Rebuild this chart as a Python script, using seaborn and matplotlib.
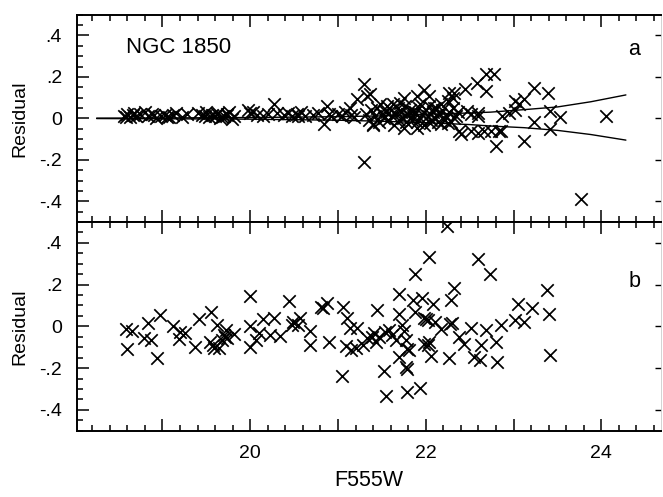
import numpy as np
import pandas as pd
import matplotlib
matplotlib.use("Agg")
import matplotlib.pyplot as plt
from matplotlib.ticker import MultipleLocator, FixedLocator
import seaborn as sns

# ---------------- data ----------------
# Panel a: residuals vs F555W
a_x = [18.56, 18.60, 18.63, 18.66, 18.68, 18.75, 18.80, 18.84, 18.88, 18.93,
       18.98, 19.03, 19.08, 19.12, 19.16, 19.22, 19.28, 19.40, 19.45, 19.50,
       19.53, 19.57, 19.60, 19.63, 19.66, 19.70, 19.73, 19.76, 19.79, 19.82,
       19.98, 20.03, 20.08, 20.15, 20.20, 20.27, 20.30, 20.38, 20.43, 20.48,
       20.53, 20.58, 20.62, 20.72, 20.77, 20.84, 20.87, 20.90, 20.92, 21.00,
       21.05, 21.08, 21.14, 21.15, 21.18, 21.22, 21.30, 21.30, 21.33, 21.36,
       21.40, 21.48, 21.56, 21.63, 21.71, 21.75, 21.79, 21.86, 21.90, 21.94,
       21.98, 22.04, 22.09, 22.17, 22.25, 22.31, 22.26, 22.32, 22.45, 22.58,
       22.69, 22.78, 22.69, 21.75, 21.90, 22.05, 22.17, 22.25, 22.32, 22.38,
       22.40, 22.51, 22.59, 22.66, 22.74, 22.51, 22.59, 22.80, 22.87, 22.95,
       23.02, 23.12, 23.06, 23.02, 23.23, 23.39, 23.41, 23.53, 23.23, 23.42,
       23.12, 22.86, 24.05, 23.77, 22.47, 22.60, 22.83,
       21.32, 21.35, 21.38, 21.40, 21.42, 21.45, 21.47, 21.50, 21.52, 21.55,
       21.57, 21.60, 21.62, 21.64, 21.66, 21.68, 21.70, 21.72, 21.74, 21.76,
       21.78, 21.80, 21.82, 21.84, 21.86, 21.88, 21.90, 21.92, 21.94, 21.96,
       21.98, 22.00, 22.02, 22.04, 22.06, 22.08, 22.10, 22.12, 22.14, 22.16,
       22.19, 22.21, 22.23, 22.26, 22.29, 22.31, 22.34, 22.37,
       18.58, 18.70, 18.90, 19.05, 19.48, 19.62, 19.68, 19.74, 20.00, 20.55]
a_y = [0.010, 0.020, 0.005, 0.015, 0.025, 0.020, 0.030, 0.012, 0.022, 0.000,
       0.010, 0.018, 0.005, 0.015, 0.025, 0.008, 0.020, 0.025, 0.015, 0.030,
       0.005, 0.018, 0.010, 0.025, 0.002, 0.012, 0.020, 0.030, -0.005, 0.010,
       0.040, 0.030, 0.015, 0.010, 0.020, 0.068, 0.025, 0.015, 0.025, 0.010,
       0.020, 0.030, 0.010, 0.015, 0.025, -0.026, 0.060, 0.020, 0.010, 0.020,
       0.010, 0.030, 0.051, 0.015, 0.005, 0.092, 0.168, -0.212, 0.108, 0.116,
       -0.029, 0.068, 0.060, 0.068, 0.076, 0.100, 0.019, 0.035, 0.108, 0.068,
       0.136, 0.108, 0.051, 0.068, 0.084, 0.100, 0.124, 0.124, 0.140, 0.172,
       0.216, 0.213, 0.132, -0.045, -0.045, -0.021, -0.029, -0.021, 0.003, -0.061,
       -0.077, -0.060, -0.070, -0.060, -0.060, 0.019, 0.027, -0.134, 0.011, 0.027,
       0.084, 0.092, 0.068, 0.039, 0.148, 0.124, 0.035, 0.006, -0.018, -0.053,
       -0.107, -0.062, 0.011, -0.387, 0.035, 0.011, -0.061,
       0.020, -0.010, 0.040, -0.030, 0.010, 0.050, -0.020, 0.020, 0.000, 0.030,
       -0.010, 0.040, 0.010, -0.030, 0.020, 0.050, -0.010, 0.030, 0.000, 0.060,
       -0.020, 0.020, 0.040, -0.010, 0.010, 0.030, -0.020, 0.050, 0.000, 0.020,
       -0.030, 0.040, 0.010, 0.060, -0.010, 0.030, 0.000, 0.050, -0.020, 0.020,
       0.040, -0.010, 0.010, 0.030, -0.020, 0.050, 0.010, 0.030,
       0.005, 0.012, 0.018, 0.008, 0.010, 0.020, 0.005, 0.015, 0.025, 0.012]

# Error envelope (panel a)
env_x = [18.25, 19.0, 20.0, 21.0, 21.5, 22.0, 22.5, 22.74, 23.12, 23.5, 23.88, 24.28]
env_up = [0.001, 0.002, 0.004, 0.008, 0.012, 0.020, 0.026, 0.030, 0.042, 0.055, 0.080, 0.113]
env_lo = [-0.001, -0.002, -0.004, -0.009, -0.014, -0.021, -0.030, -0.037, -0.045, -0.058, -0.078, -0.105]

# Panel b: residuals vs F555W
b_x = [18.59, 18.65, 18.60, 18.83, 18.79, 18.87, 18.97, 18.94, 19.12, 19.20,
       19.26, 19.19, 19.37, 19.42, 19.55, 19.62, 19.54, 19.58, 19.59, 19.65,
       19.70, 19.72, 19.74, 19.81, 19.68, 19.71, 20.00, 20.00, 20.00, 20.07,
       20.10, 20.15, 20.27, 20.23, 20.34, 20.44, 20.49, 20.48, 20.55, 20.57,
       20.68, 20.68, 20.81, 20.83, 20.87, 20.90, 21.06, 21.10, 21.14, 21.05,
       21.09, 21.15, 21.21, 21.22, 21.29, 21.33, 21.39, 21.43, 21.45, 21.41,
       21.47, 21.52, 21.55, 21.54, 21.58, 21.62, 21.66, 21.69, 21.70, 21.69,
       21.73, 21.75, 21.77, 21.79, 21.81, 21.77, 21.79, 21.79, 21.88, 21.86,
       21.96, 21.88, 21.94, 22.24, 22.04, 22.60, 22.73, 22.32, 22.29, 22.08,
       21.98, 22.02, 22.00, 22.11, 22.17, 22.28, 22.30, 22.38, 22.44, 22.52,
       22.69, 22.86, 22.80, 22.63, 22.55, 22.62, 22.81, 22.26, 22.06, 22.04,
       22.02, 21.98, 23.02, 23.12, 23.05, 23.21, 23.38, 23.40, 23.42]
b_y = [-0.014, -0.022, -0.110, 0.018, -0.057, -0.065, 0.055, -0.153, 0.002, -0.025,
       -0.030, -0.060, -0.101, 0.034, 0.067, 0.007, -0.073, -0.089, -0.105, -0.102,
       -0.041, -0.017, -0.054, -0.038, -0.065, -0.050, 0.147, 0.003, -0.097, -0.065,
       -0.034, 0.036, 0.042, -0.041, -0.045, 0.122, 0.023, 0.007, 0.007, 0.038,
       -0.022, -0.089, 0.094, 0.090, 0.110, -0.073, 0.094, 0.038, -0.010, -0.236,
       -0.093, -0.113, -0.102, -0.010, -0.089, -0.058, -0.050, -0.074, 0.077, -0.032,
       -0.050, -0.216, -0.336, -0.025, -0.017, -0.041, -0.065, 0.058, 0.157, -0.147,
       0.005, -0.020, -0.067, -0.107, -0.115, -0.195, -0.203, -0.316, 0.253, 0.128,
       0.138, 0.069, -0.294, 0.480, 0.330, 0.325, 0.253, 0.186, 0.128, 0.106,
       0.040, 0.030, 0.035, 0.021, -0.011, 0.013, 0.016, -0.051, -0.083, -0.006,
       -0.016, 0.005, -0.075, -0.091, -0.147, -0.163, -0.171, -0.150, -0.144, -0.075,
       -0.091, -0.085, 0.029, 0.021, 0.106, 0.090, 0.173, 0.061, -0.139]

y_ticks = [-0.4, -0.2, 0.0, 0.2, 0.4]
y_ticklabels = ["-.4", "-.2", "0", ".2", ".4"]
x_ticks = [19, 20, 21, 22, 23, 24]
x_ticklabels = ["", "20", "", "22", "", "24"]

# ---------------- figure ----------------
sns.set_style("ticks")
plt.rcParams["font.family"] = ["Liberation Sans", "DejaVu Sans"]
plt.rcParams["text.color"] = "black"
plt.rcParams["axes.labelcolor"] = "black"
plt.rcParams["xtick.color"] = "black"
plt.rcParams["ytick.color"] = "black"

fig = plt.figure(figsize=(6.63, 4.97), dpi=100)
L, R = 77.3 / 663, 661 / 663
T, M, B = 1 - 14.7 / 497, 1 - 222.0 / 497, 1 - 430.7 / 497
ax_a = fig.add_axes([L, M, R - L, T - M])
ax_b = fig.add_axes([L, B, R - L, M - B])

dfa = pd.DataFrame({"mag": a_x, "res": a_y})
dfb = pd.DataFrame({"mag": b_x, "res": b_y})
dfe = pd.DataFrame({"mag": env_x, "up": env_up, "lo": env_lo})

mk = dict(marker="x", color="black", s=80, linewidth=1.25)
sns.scatterplot(data=dfa, x="mag", y="res", ax=ax_a, **mk)
sns.lineplot(data=dfe, x="mag", y="up", ax=ax_a, color="black", lw=1.0)
sns.lineplot(data=dfe, x="mag", y="lo", ax=ax_a, color="black", lw=1.0)
sns.scatterplot(data=dfb, x="mag", y="res", ax=ax_b, **mk)

for ax, letter, ly in ((ax_a, "a", 0.83), (ax_b, "b", 0.713)):
    ax.set_xlim(18.03, 24.68)
    ax.set_ylim(-0.5, 0.5)
    ax.yaxis.set_major_locator(FixedLocator(y_ticks))
    ax.set_yticklabels(y_ticklabels)
    ax.yaxis.set_minor_locator(MultipleLocator(0.05))
    ax.xaxis.set_major_locator(FixedLocator(x_ticks))
    ax.xaxis.set_minor_locator(MultipleLocator(0.2))
    ax.tick_params(which="both", direction="in", top=True, right=False,
                   color="black", labelcolor="black", width=1.1)
    ax.tick_params(which="major", length=8.5)
    ax.tick_params(which="minor", length=4.5)
    ax.tick_params(axis="y", labelsize=14, pad=11)
    ax.tick_params(axis="x", labelsize=14, pad=10)
    for side in ("left", "top", "bottom"):
        ax.spines[side].set_visible(True)
        ax.spines[side].set_linewidth(1.4)
        ax.spines[side].set_color("black")
    ax.spines["right"].set_visible(True)
    ax.spines["right"].set_color("0.8")
    ax.spines["right"].set_linewidth(0.6)
    ax.set_ylabel("Residual", fontsize=14, labelpad=8, color="black")
    ax.text(0.954, ly, letter, transform=ax.transAxes, color="black",
            fontsize=15.5, ha="center", va="center")
    ax2 = ax.secondary_yaxis("right")
    ax2.set_yticks(y_ticks)
    ax2.tick_params(direction="in", length=4, width=1.0, labelright=False,
                    color="black")
    ax2.spines["right"].set_visible(False)

ax_a.set_xticklabels([])
ax_a.set_xlabel("")
ax_b.set_xticklabels(x_ticklabels)
ax_b.set_xlabel("F555W", fontsize=15.5, labelpad=6, color="black")
ax_a.text(0.083, 0.84, "NGC 1850", transform=ax_a.transAxes, fontsize=16,
          ha="left", va="center", color="black")

fig.savefig("out.png", dpi=100)
